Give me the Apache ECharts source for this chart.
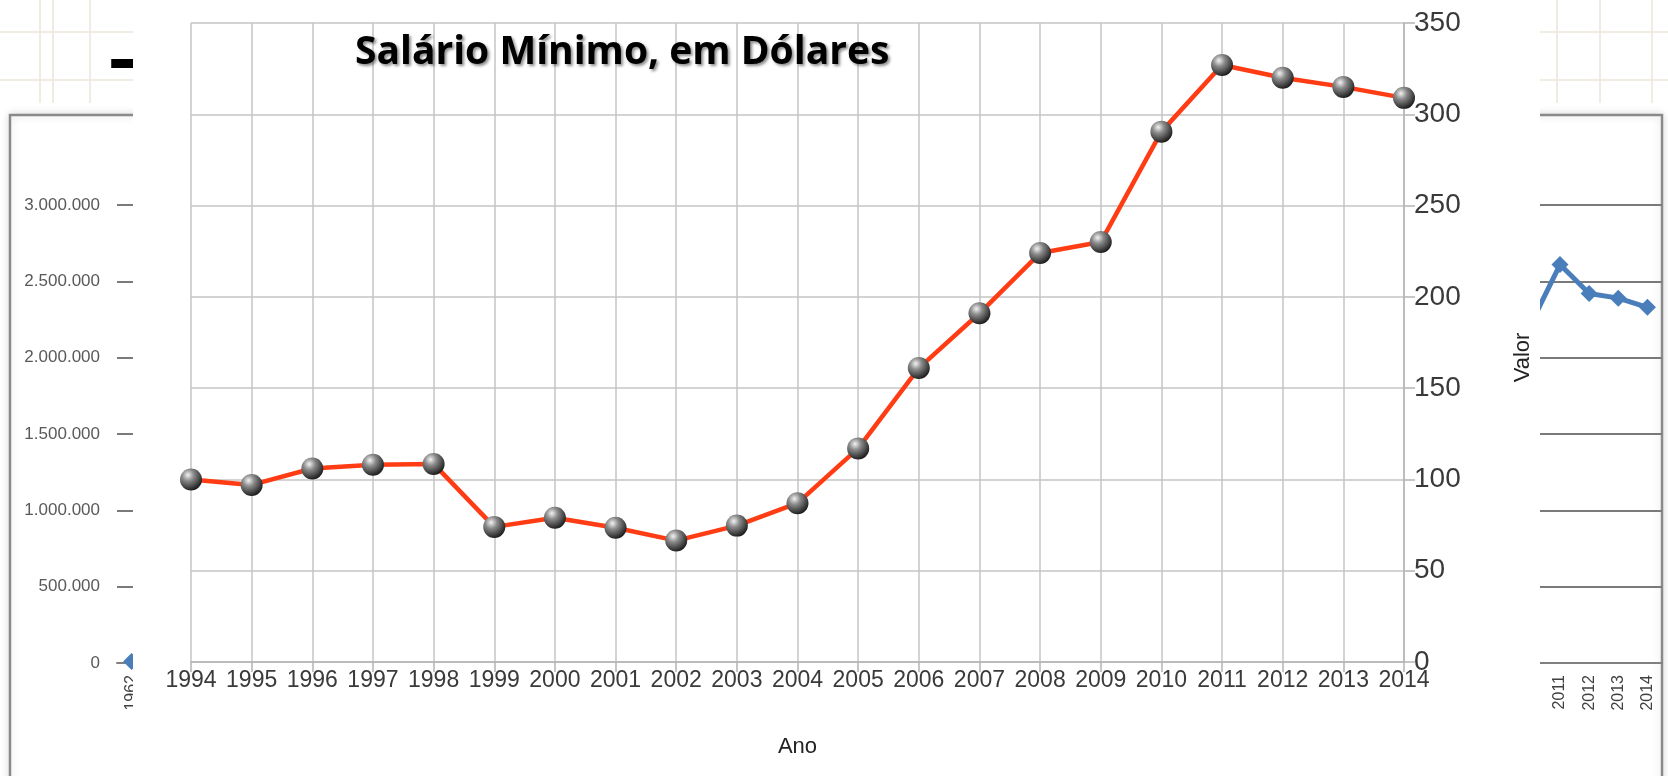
<!DOCTYPE html>
<html>
<head>
<meta charset="utf-8">
<script src="https://cdn.jsdelivr.net/npm/echarts@6/dist/echarts.min.js"></script>
<style>
html,body{margin:0;padding:0;background:#fff;}
#chart{width:1668px;height:776px;}
</style>
</head>
<body>
<div id="chart"></div>
<script>
// salario minimo (main chart)
var anos=['1994','1995','1996','1997','1998','1999','2000','2001','2002','2003','2004',
	'2005','2006','2007','2008','2009','2010','2011','2012','2013','2014'];
var salario=[100,97,106,108,108.5,74,79,73.5,66.5,74.7,87,117,161,191,224,230,290.5,327,320,315,309];
var valorTicks=[0,50,100,150,200,250,300,350];

// background chart of the slide (mostly hidden behind the main one)
var bgAnos=['1962','1963','1964','1965','1966','1967','1968','1969','1970','1971','1972','1973',
	'1974','1975','1976','1977','1978','1979','1980','1981','1982','1983','1984','1985','1986',
	'1987','1988','1989','1990','1991','1992','1993','1994','1995','1996','1997','1998','1999',
	'2000','2001','2002','2003','2004','2005','2006','2007','2008','2009','2010','2011','2012',
	'2013','2014'];
var bgValores=[10000,null,null,null,null,null,null,null,null,null,null,null,
	null,null,null,null,null,null,null,null,null,null,null,null,null,
	null,null,null,null,null,null,null,null,null,null,null,null,null,
	null,null,null,null,null,null,null,null,null,null,2220000,2610000,2420000,
	2390000,2330000];

function milhar(v){
	return String(v).replace(/\B(?=(\d{3})+(?!\d))/g,'.');
}

var sfera={type:'radial',x:0.36,y:0.3,r:0.75,colorStops:[
	{offset:0,color:'#f2f2f2'},{offset:0.35,color:'#8c8c8c'},{offset:1,color:'#151515'}]};

var paper='#ebe6da';
var deco=[];
//papel quadriculado do slide
[40,53,90,1557,1600,1652].forEach(function(x){
	deco.push({type:'line',z:-5,shape:{x1:x,y1:0,x2:x,y2:103},style:{stroke:paper,lineWidth:1.5}});
});
[32,80].forEach(function(y){
	deco.push({type:'line',z:-5,shape:{x1:0,y1:y,x2:133,y2:y},style:{stroke:paper,lineWidth:1.5}});
	deco.push({type:'line',z:-5,shape:{x1:1540,y1:y,x2:1668,y2:y},style:{stroke:paper,lineWidth:1.5}});
});
deco.push({type:'rect',z:-3,shape:{x:10,y:115,width:1652,height:700},
	style:{fill:'#fff',stroke:'#8a8a8a',lineWidth:2.5,shadowColor:'rgba(0,0,0,0.15)',shadowBlur:8}});
deco.push({type:'text',z:-2,left:108,top:22,style:{text:'–',font:'bold 80px "Open Sans"',fill:'#000'}});
// fundo branco do grafico principal
deco.push({type:'rect',zlevel:1,z:0,shape:{x:133,y:0,width:1407,height:776},style:{fill:'#fff'}});

var chart=echarts.init(document.getElementById('chart'));
chart.setOption({
	animation:false,
	title:{text:'Salário Mínimo, em Dólares',left:350,top:28,zlevel:1,z:10,
		textStyle:{fontFamily:'Open Sans',fontWeight:'bold',fontSize:39,color:'#000',
			textShadowColor:'rgba(0,0,0,0.45)',textShadowBlur:3,textShadowOffsetX:2,textShadowOffsetY:2}},
	graphic:{elements:deco},
	grid:[
		{left:117,right:6,top:205,bottom:113},
		{left:191,right:264,top:23,bottom:114,zlevel:1}
	],
	xAxis:[
		{type:'category',gridIndex:0,data:bgAnos,boundaryGap:true,
			axisLine:{lineStyle:{color:'#808080',width:2}},axisTick:{show:false},
			axisLabel:{interval:0,rotate:90,margin:12,fontFamily:'Liberation Sans',fontSize:16,color:'#404040'}},
		{type:'category',gridIndex:1,data:anos,boundaryGap:false,zlevel:1,z:1,
			name:'Ano',nameLocation:'middle',nameGap:74,
			nameTextStyle:{fontFamily:'Liberation Sans',fontSize:22,color:'#222'},
			axisLine:{lineStyle:{color:'#b4b4b4',width:1.5}},
			axisTick:{show:true,length:10,alignWithLabel:true,lineStyle:{color:'#b4b4b4',width:1.5}},
			axisLabel:{interval:0,margin:7,fontFamily:'Liberation Sans',fontSize:23,color:'#3a3a3a'},
			splitLine:{show:true,lineStyle:{color:'#c4c4c4',width:1.5}}}
	],
	yAxis:[
		{type:'value',gridIndex:0,min:0,max:3000000,interval:500000,
			axisLine:{show:false},axisTick:{show:false},
			axisLabel:{margin:17,fontFamily:'Liberation Sans',fontSize:17,color:'#595959',formatter:milhar},
			splitLine:{lineStyle:{color:'#7a7a7a',width:2}}},
		{type:'value',gridIndex:1,position:'right',min:valorTicks[0],max:valorTicks[valorTicks.length-1],
			interval:50,zlevel:1,z:1,
			name:'Valor',nameLocation:'middle',nameGap:108,nameRotate:90,
			nameTextStyle:{fontFamily:'Liberation Sans',fontSize:22,color:'#222',padding:[0,30,0,0]},
			axisLine:{show:true,lineStyle:{color:'#b4b4b4',width:1.5}},
			axisTick:{show:true,length:11,lineStyle:{color:'#b4b4b4',width:1.5}},
			axisLabel:{margin:10,fontFamily:'Liberation Sans',fontSize:28,color:'#3a3a3a'},
			splitLine:{show:true,lineStyle:{color:'#c4c4c4',width:1.5}}}
	],
	series:[
		{type:'line',xAxisIndex:0,yAxisIndex:0,data:bgValores,z:1,
			symbol:'diamond',symbolSize:17,
			lineStyle:{color:'#4a7ebb',width:5},itemStyle:{color:'#4a7ebb'}},
		{type:'line',xAxisIndex:1,yAxisIndex:1,data:salario,zlevel:1,z:5,
			symbol:'circle',symbolSize:22,
			lineStyle:{color:'#ff3c14',width:4.5},itemStyle:{color:sfera,borderWidth:0}}
	]
});
</script>
</body>
</html>
